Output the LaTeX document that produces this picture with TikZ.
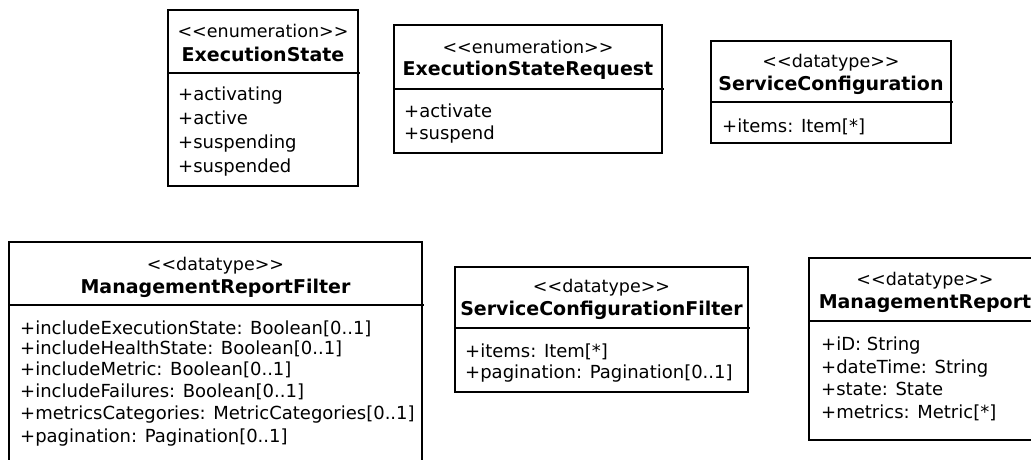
\documentclass[tikz,border=0pt]{standalone}
\usepackage{fontspec}
\setmainfont{DejaVu Sans}
\newfontfamily\attrfont{DejaVu Sans}
\newfontfamily\ttlfont{DejaVu Sans}
\begin{document}
\begin{tikzpicture}[x=1pt,y=-1pt,
  umlbox/.style={draw, line width=1.4pt, rectangle, inner sep=0pt, outer sep=0pt, anchor=north west},
  divider/.style={line width=1.4pt},
  stereo/.style={anchor=base, inner sep=0pt, font=\attrfont\fontsize{17.5}{21}\selectfont},
  ttl/.style={anchor=base, inner sep=0pt, font=\ttlfont\bfseries\fontsize{19}{23}\selectfont},
  attr/.style={anchor=base west, inner sep=0pt, font=\attrfont\fontsize{18}{22}\selectfont}]
\path[use as bounding box, clip] (0,0) rectangle (1031,459);

% ExecutionState
\node[umlbox, minimum width=190pt, minimum height=176pt] (es) at (168,10) {};
\draw[divider] (es.west |- 0,73) -- ++(192,0);
\node[stereo] (es-st) at (es.north |- 0,37) {<{}<enumeration>{}>};
\node[ttl] (es-ti) at (es.north |- 0,61) {ExecutionState};
\node[attr] (es-a1) at (178,100) {+activating};
\node[attr] (es-a2) at (178,124) {+active};
\node[attr] (es-a3) at (178,148) {+suspending};
\node[attr] (es-a4) at (178,172) {+suspended};

% ExecutionStateRequest
\node[umlbox, minimum width=268pt, minimum height=128pt] (esr) at (394,25) {};
\draw[divider] (esr.west |- 0,89) -- ++(270,0);
\node[stereo] (esr-st) at (esr.north |- 0,53) {<{}<enumeration>{}>};
\node[ttl] (esr-ti) at (esr.north |- 0,75) {ExecutionStateRequest};
\node[attr] (esr-a1) at (404,117) {+activate};
\node[attr] (esr-a2) at (404,139) {+suspend};

% ServiceConfiguration
\node[umlbox, minimum width=240pt, minimum height=102pt] (sc) at (711,41) {};
\draw[divider] (sc.west |- 0,102) -- ++(242,0);
\node[stereo] (sc-st) at (sc.north |- 0,67) {<{}<datatype>{}>};
\node[ttl] (sc-ti) at (sc.north |- 0,90) {ServiceConfiguration};
\node[attr] (sc-a1) at (722,132) {+items: Item[*]};

% ManagementReportFilter
\node[umlbox, minimum width=413pt, minimum height=228pt] (mrf) at (9,242) {};
\draw[divider] (mrf.west |- 0,305) -- ++(415,0);
\node[stereo] (mrf-st) at (mrf.north |- 0,270) {<{}<datatype>{}>};
\node[ttl] (mrf-ti) at (mrf.north |- 0,293) {ManagementReportFilter};
\node[attr] (mrf-a1) at (20,334) {+includeExecutionState: Boolean[0..1]};
\node[attr] (mrf-a2) at (20,354) {+includeHealthState: Boolean[0..1]};
\node[attr] (mrf-a3) at (20,375) {+includeMetric: Boolean[0..1]};
\node[attr] (mrf-a4) at (20,397) {+includeFailures: Boolean[0..1]};
\node[attr] (mrf-a5) at (20,419) {+metricsCategories: MetricCategories[0..1]};
\node[attr] (mrf-a6) at (20,442) {+pagination: Pagination[0..1]};

% ServiceConfigurationFilter
\node[umlbox, minimum width=293pt, minimum height=125pt] (scf) at (455,267) {};
\draw[divider] (scf.west |- 0,328) -- ++(295,0);
\node[stereo] (scf-st) at (scf.north |- 0,292) {<{}<datatype>{}>};
\node[ttl] (scf-ti) at (scf.north |- 0,315) {ServiceConfigurationFilter};
\node[attr] (scf-a1) at (465,357) {+items: Item[*]};
\node[attr] (scf-a2) at (465,378) {+pagination: Pagination[0..1]};

% ManagementReport
\node[umlbox, minimum width=232pt, minimum height=182pt] (mr) at (809,258) {};
\draw[divider] (mr.west |- 0,321) -- ++(234,0);
\node[stereo] (mr-st) at (mr.north |- 0,285) {<{}<datatype>{}>};
\node[ttl] (mr-ti) at (mr.north |- 0,308) {ManagementReport};
\node[attr] (mr-a1) at (821,350) {+iD: String};
\node[attr] (mr-a2) at (821,373) {+dateTime: String};
\node[attr] (mr-a3) at (821,395) {+state: State};
\node[attr] (mr-a4) at (821,418) {+metrics: Metric[*]};
\end{tikzpicture}
\end{document}
